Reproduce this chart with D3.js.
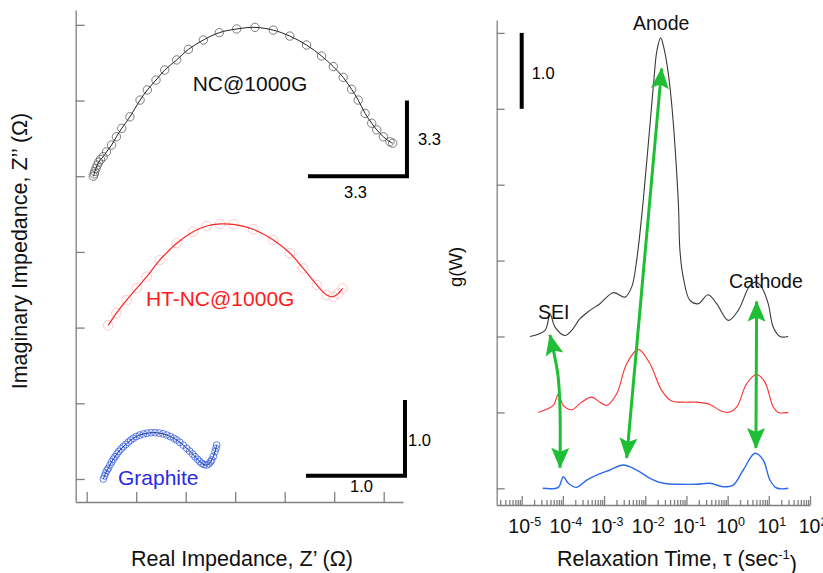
<!DOCTYPE html>
<html>
<head>
<meta charset="utf-8">
<script src="https://cdn.jsdelivr.net/npm/d3@7"></script>
<style>
	body { margin: 0; background: #fff; }
	svg { display: block; font-family: 'Liberation Sans', Arial, sans-serif; }
	.axis path, .axis line { stroke: #808080; stroke-width: 1.3; }
</style>
</head>
<body>
<script>
// ---- Nyquist data (Z' , Z'' in ohm) ----
const nyqNames = ['NC@1000G', 'HT-NC@1000G', 'Graphite'];
const nyqScale = [3.3, 3.3, 1.0];   // scale bar value per display unit
const nyqOffset = [4, 2, 0];        // stacking offset (display units)

const ncZre = [0.22, 0.25, 0.27, 0.31, 0.35, 0.40, 0.46, 0.55, 0.66, 0.83, 0.99, 1.17, 1.44, 1.78, 2.02, 2.31, 2.60, 3.00, 3.39, 3.89, 4.42, 5.00, 5.61, 6.22, 6.77, 7.33, 7.83, 8.22, 8.55, 8.83, 9.05, 9.28, 9.50, 9.67, 9.89, 10.11, 10.20];
const ncZim = [0.00, 0.10, 0.21, 0.34, 0.48, 0.61, 0.73, 0.85, 1.06, 1.36, 1.72, 2.09, 2.59, 3.32, 3.76, 4.19, 4.63, 5.07, 5.53, 5.94, 6.26, 6.42, 6.49, 6.37, 6.11, 5.72, 5.24, 4.78, 4.31, 3.79, 3.32, 2.74, 2.31, 2.02, 1.72, 1.50, 1.44];

const htZre = [0.72, 0.99, 1.33, 1.67, 2.00, 2.44, 3.00, 3.55, 4.00, 4.44, 4.89, 5.55, 6.22, 6.78, 7.22, 7.67, 8.00, 8.22, 8.39, 8.53];
const htZim = [0.10, 0.63, 1.20, 1.72, 2.22, 2.95, 3.68, 4.18, 4.43, 4.52, 4.50, 4.29, 3.82, 3.24, 2.58, 1.86, 1.42, 1.35, 1.49, 1.71];

const grZre = [0.168, 0.180, 0.192, 0.205, 0.218, 0.235, 0.252, 0.270, 0.286, 0.305, 0.325, 0.347, 0.370, 0.395, 0.420, 0.445, 0.471, 0.500, 0.535, 0.572, 0.610, 0.650, 0.690, 0.730, 0.770, 0.808, 0.845, 0.880, 0.909, 0.940, 0.975, 1.010, 1.040, 1.070, 1.094, 1.120, 1.142, 1.162, 1.185, 1.212, 1.235, 1.252, 1.263, 1.280, 1.296, 1.306, 1.313];
const grZim = [0.000, 0.040, 0.080, 0.115, 0.140, 0.185, 0.225, 0.262, 0.295, 0.330, 0.365, 0.397, 0.427, 0.456, 0.485, 0.513, 0.538, 0.560, 0.580, 0.594, 0.605, 0.611, 0.612, 0.607, 0.597, 0.581, 0.560, 0.538, 0.515, 0.485, 0.447, 0.406, 0.368, 0.330, 0.295, 0.260, 0.232, 0.207, 0.190, 0.185, 0.200, 0.228, 0.251, 0.300, 0.361, 0.405, 0.449];

const nyqXTicks = [0, 0.5, 1, 1.5, 2, 2.5, 3];
const nyqYTicks = [0, 1, 2, 3, 4, 5, 6];

// ---- DRT data (log10 tau, g) ----
const drtOffset = [2, 1, 0];
const logTauBlack = [-4.80, -4.434, -4.313, -4.191, -3.949, -3.786, -3.585, -3.342, -3.100, -2.777, -2.493, -2.330, -2.209, -2.049, -1.806, -1.716, -1.626, -1.534, -1.400, -1.199, -1.158, -1.078, -0.915, -0.714, -0.471, -0.267, 0.015, 0.257, 0.541, 0.687, 0.825, 0.985, 1.107, 1.269, 1.471];
const gBlack = [0.00, 0.08, 0.30, 0.124, 0.014, 0.080, 0.234, 0.344, 0.432, 0.577, 0.519, 0.651, 1.003, 1.792, 3.285, 3.77, 3.935, 3.77, 3.285, 1.792, 1.134, 0.782, 0.475, 0.432, 0.551, 0.432, 0.212, 0.344, 0.673, 0.716, 0.651, 0.432, 0.124, 0.00, 0.00];

const logTauRed = [-4.597, -4.233, -4.112, -3.990, -3.786, -3.544, -3.301, -3.100, -2.937, -2.694, -2.451, -2.170, -1.886, -1.602, -1.359, -1.078, -0.752, -0.430, -0.187, 0.015, 0.218, 0.461, 0.704, 0.905, 1.107, 1.228, 1.471];
const gRed = [0.00, 0.092, 0.237, 0.092, 0.035, 0.135, 0.201, 0.135, 0.092, 0.246, 0.641, 0.830, 0.641, 0.290, 0.149, 0.135, 0.135, 0.105, 0.026, 0.00, 0.070, 0.378, 0.500, 0.399, 0.070, 0.00, 0.00];

const logTauBlue = [-4.490, -4.112, -3.990, -3.869, -3.665, -3.422, -3.180, -2.857, -2.534, -2.209, -1.886, -1.563, -1.158, -0.752, -0.430, -0.107, 0.136, 0.379, 0.663, 0.864, 1.027, 1.189, 1.471];
const gBlue = [0.00, 0.013, 0.153, 0.066, 0.013, 0.109, 0.175, 0.241, 0.307, 0.241, 0.132, 0.066, 0.053, 0.053, 0.066, 0.021, 0.043, 0.241, 0.461, 0.373, 0.109, 0.004, 0.00];

const drtYTicks = [0, 1, 2, 3, 4, 5, 6];
const drtDecades = [-5, -4, -3, -2, -1, 0, 1, 2];

// arrows in (log10 tau, stacked g)
const arrowSei = [[-4.313, 2.02], [-4.12, 1.49], [-4.07, 1.03], [-4.07, 0.27]];
const arrowAnode = [[-1.602, 5.53], [-2.451, 0.40]];
const arrowCathode = [[0.704, 2.46], [0.687, 0.53]];

const width = 823, height = 573;
const svg = d3.select('body').append('svg').attr('width', width).attr('height', height);

// ================= left panel: Nyquist =================
let xL = d3.scaleLinear().domain([-0.111, 3.195]).range([75.7, 403]);
let yL = d3.scaleLinear().domain([-0.304, 6.196]).range([502, 10]);

svg.append('g')
	.attr('class', 'axis')
	.attr('transform', `translate(0,${yL.range()[0]})`)
	.call(d3.axisBottom(xL).tickValues(nyqXTicks).tickSize(-10).tickSizeOuter(0).tickFormat(''));
svg.append('g')
	.attr('class', 'axis')
	.attr('transform', `translate(${xL.range()[0]},0)`)
	.call(d3.axisRight(yL).tickValues(nyqYTicks).tickSize(9).tickSizeOuter(0).tickFormat(''));

let nyq = [
	{re: ncZre, im: ncZim, line: '#222', dot: '#555', r: 4.2, lw: 1, op: 0.85},
	{re: htZre, im: htZim, line: '#ff2424', dot: '#ffb0b0', r: 4.8, lw: 1.2, op: 0.75},
	{re: grZre, im: grZim, line: '#1a3596', dot: '#3b62e6', r: 3.4, lw: 1, op: 0.9}
];
nyq.forEach((s, i) => {
	let pts = s.re.map((v, k) => [xL(v / nyqScale[i]), yL(s.im[k] / nyqScale[i] + nyqOffset[i])]);
	let g = svg.append('g').attr('class', 'nyq _' + i);
	g.selectAll('circle')
		.data(pts)
		.enter()
		.append('circle')
		.attr('cx', d => d[0])
		.attr('cy', d => d[1])
		.attr('r', s.r)
		.attr('fill', 'none')
		.attr('stroke', s.dot)
		.attr('stroke-width', 0.9)
		.attr('stroke-opacity', s.op);
	g.append('path')
		.attr('d', d3.line().curve(d3.curveCatmullRom)(pts))
		.attr('fill', 'none')
		.attr('stroke', s.line)
		.attr('stroke-width', s.lw);
});

// sample labels
let nyqLabels = [
	{text: nyqNames[0], x: 1.65, y: 5.12, color: '#111'},
	{text: nyqNames[1], x: 1.348, y: 2.29, color: '#ff1a1a'},
	{text: nyqNames[2], x: 0.723, y: -0.08, color: '#2a2ae8'}
];
svg.selectAll('text.nyq-label')
	.data(nyqLabels)
	.enter()
	.append('text')
	.attr('class', 'nyq-label')
	.attr('x', d => xL(d.x))
	.attr('y', d => yL(d.y))
	.attr('text-anchor', 'middle')
	.attr('fill', d => d.color)
	.style('font-size', '21px')
	.text(d => d.text);

// scale bars: corner in display units, length = scale value / scale
let bars = [
	{i: 0, cx: 3.235, cy: 4.0, vdx: 11, vdy: 7, hdy: 22, hdx: -2},
	{i: 2, cx: 3.215, cy: 0.044, vdx: 3, vdy: 8, hdy: 16, hdx: 6}
];
bars.forEach(b => {
	let len = nyqScale[b.i] / nyqScale[b.i];
	let corner = [xL(b.cx), yL(b.cy)];
	let top = yL(b.cy + len), left = xL(b.cx - len);
	svg.append('path')
		.attr('d', `M${left},${corner[1]}H${corner[0]}V${top}`)
		.attr('fill', 'none')
		.attr('stroke', '#000')
		.attr('stroke-width', 4);
	svg.append('text')
		.attr('x', corner[0] + b.vdx)
		.attr('y', (corner[1] + top) / 2 + b.vdy)
		.style('font-size', '16.5px')
		.text(nyqScale[b.i].toFixed(1));
	svg.append('text')
		.attr('x', (left + corner[0]) / 2 + b.hdx)
		.attr('y', corner[1] + b.hdy)
		.attr('text-anchor', 'middle')
		.style('font-size', '16.5px')
		.text(nyqScale[b.i].toFixed(1));
});

svg.append('text')
	.attr('x', 242)
	.attr('y', 566)
	.attr('text-anchor', 'middle')
	.style('font-size', '21.5px')
	.attr('fill', '#111')
	.text('Real Impedance, Z\u2019 (\u03A9)');
svg.append('text')
	.attr('transform', 'translate(27,251) rotate(-90)')
	.attr('text-anchor', 'middle')
	.style('font-size', '21.5px')
	.attr('fill', '#111')
	.text('Imaginary Impedance, Z\u2019\u2019 (\u03A9)');

// ================= right panel: DRT =================
let xR = d3.scaleLog().domain([Math.pow(10, -5.607), 100]).range([496.7, 810]);
let yR = d3.scaleLinear().domain([-0.22, 6.17]).range([505, 20]);

let minorTicks = [];
for (let k = -6; k <= 1; k++) {
	for (let m = 2; m <= 9; m++) {
		let v = m * Math.pow(10, k);
		if (v >= xR.domain()[0] && v <= xR.domain()[1]) minorTicks.push(v);
	}
}
svg.append('g')
	.attr('class', 'axis')
	.attr('transform', `translate(0,${yR.range()[0]})`)
	.call(d3.axisBottom(xR).tickValues(minorTicks).tickSize(-5).tickSizeOuter(0).tickFormat(''));
let xMajor = svg.append('g')
	.attr('class', 'axis')
	.attr('transform', `translate(0,${yR.range()[0]})`)
	.call(d3.axisBottom(xR).tickValues(drtDecades.map(d => Math.pow(10, d))).tickSize(-9).tickSizeOuter(0).tickFormat(''));
xMajor.select('.domain').remove();
svg.append('g')
	.attr('class', 'axis')
	.attr('transform', `translate(${xR.range()[0]},0)`)
	.call(d3.axisRight(yR).tickValues(drtYTicks).tickSize(8).tickSizeOuter(0).tickFormat(''));

let decLabels = svg.selectAll('text.dec')
	.data(drtDecades)
	.enter()
	.append('text')
	.attr('class', 'dec')
	.attr('x', d => xR(Math.pow(10, d)) + 3)
	.attr('y', 533)
	.attr('text-anchor', 'middle')
	.attr('fill', '#111')
	.style('font-size', '19.5px');
decLabels.append('tspan').text('10');
decLabels.append('tspan')
	.attr('dy', '-0.55em')
	.style('font-size', '12.5px')
	.text(d => d);

let drt = [
	{lt: logTauBlack, g: gBlack, color: '#3a3a3a', lw: 1.1},
	{lt: logTauRed, g: gRed, color: '#ff3030', lw: 1.1},
	{lt: logTauBlue, g: gBlue, color: '#2f6be8', lw: 1.4}
];
let drtLine = d3.line().curve(d3.curveCatmullRom);
drt.forEach((s, i) => {
	let pts = s.lt.map((v, k) => [xR(Math.pow(10, v)), yR(s.g[k] + drtOffset[i])]);
	svg.append('path')
		.attr('class', 'drt _' + i)
		.attr('d', drtLine(pts))
		.attr('fill', 'none')
		.attr('stroke', s.color)
		.attr('stroke-width', s.lw);
});

// green double arrows
let defs = svg.append('defs');
defs.append('marker')
	.attr('id', 'head')
	.attr('viewBox', '-22 -11 24 22')
	.attr('markerUnits', 'userSpaceOnUse')
	.attr('markerWidth', 24)
	.attr('markerHeight', 22)
	.attr('refX', 0)
	.attr('refY', 0)
	.attr('orient', 'auto-start-reverse')
	.append('path')
	.attr('d', 'M1,0L-20,-9L-16,0L-20,9Z')
	.attr('fill', '#1fbf35');

[arrowSei, arrowAnode, arrowCathode].forEach(a => {
	let pts = a.map(d => [xR(Math.pow(10, d[0])), yR(d[1])]);
	svg.append('path')
		.attr('d', d3.line().curve(d3.curveCatmullRom)(pts))
		.attr('fill', 'none')
		.attr('stroke', '#1fbf35')
		.attr('stroke-width', 3)
		.attr('marker-start', 'url(#head)')
		.attr('marker-end', 'url(#head)');
});

let peakLabels = [
	{text: 'Anode', lt: -1.614, y: 6.04},
	{text: 'Cathode', lt: 0.93, y: 2.64},
	{text: 'SEI', lt: -4.22, y: 2.23}
];
svg.selectAll('text.peak')
	.data(peakLabels)
	.enter()
	.append('text')
	.attr('class', 'peak')
	.attr('x', d => xR(Math.pow(10, d.lt)))
	.attr('y', d => yR(d.y))
	.attr('text-anchor', 'middle')
	.attr('fill', '#111')
	.style('font-size', '19.5px')
	.text(d => d.text);

// 1.0 scale bar
svg.append('line')
	.attr('x1', xR(1e-5)).attr('x2', xR(1e-5))
	.attr('y1', yR(5)).attr('y2', yR(6))
	.attr('stroke', '#000')
	.attr('stroke-width', 4);
svg.append('text')
	.attr('x', xR(1e-5) + 10)
	.attr('y', (yR(5) + yR(6)) / 2 + 8)
	.style('font-size', '16.5px')
	.text('1.0');

let xt = svg.append('text')
	.attr('x', 677)
	.attr('y', 566)
	.attr('text-anchor', 'middle')
	.attr('fill', '#111')
	.style('font-size', '21.5px');
xt.append('tspan').text('Relaxation Time, \u03C4 (sec');
xt.append('tspan').attr('dy', '-0.55em').style('font-size', '13px').text('-1');
xt.append('tspan').attr('dy', '0.55em').text(')');

svg.append('text')
	.attr('transform', 'translate(462,267) rotate(-90)')
	.attr('text-anchor', 'middle')
	.attr('fill', '#111')
	.style('font-size', '18.5px')
	.text('g(W)');
</script>
</body>
</html>
